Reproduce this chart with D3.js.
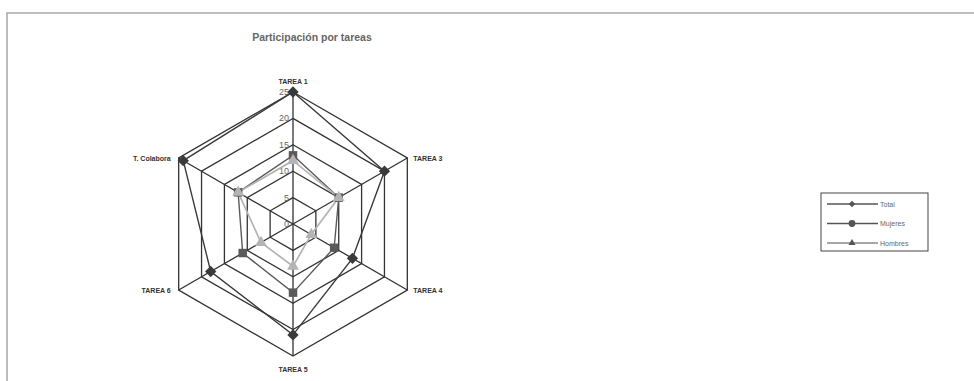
<!DOCTYPE html>
<html>
<head>
<meta charset="utf-8">
<script src="https://cdn.jsdelivr.net/npm/d3@7.9.0/dist/d3.min.js"></script>
<style>
  body { margin: 0; background: #fff; }
  svg { display: block; font-family: "Liberation Sans", Arial, sans-serif; }
</style>
</head>
<body>
<svg id="chart" width="974" height="381"></svg>
<script>
// Chart data
const axes = ['TAREA 1', 'TAREA 3', 'TAREA 4', 'TAREA 5', 'TAREA 6', 'T. Colabora'];
const total = [25, 20, 13, 21, 18, 24];
const mujeres = [13, 10, 9, 13, 11, 12];
const hombres = [12, 10, 4, 8, 7, 12];
const ticks = [0, 5, 10, 15, 20, 25];
const seriesNames = ['Total', 'Mujeres', 'Hombres'];

const svg = d3.select('#chart');
const cx = 293, cy = 224, R = 132;

const r = d3.scaleLinear().domain([0, 25]).range([0, R]);
const angle = d3.scaleLinear().domain([0, axes.length]).range([0, 2 * Math.PI]);

// outer frame
svg.append('path')
    .attr('d', 'M7,381 L7,13 L974,13')
    .attr('fill', 'none')
    .attr('stroke', '#a8a8a8')
    .attr('stroke-width', 1.5);

// title
svg.append('text')
    .attr('x', 312).attr('y', 41)
    .attr('text-anchor', 'middle')
    .attr('font-size', 10.5)
    .attr('font-weight', 'bold')
    .attr('fill', '#666')
    .text('Participación por tareas');

const g = svg.append('g').attr('transform', `translate(${cx},${cy})`);

const point = (i, v) => {
    const a = angle(i);
    return [Math.sin(a) * r(v), -Math.cos(a) * r(v)];
};

// grid rings
ticks.filter(t => t > 0).forEach(t => {
    g.append('path')
        .attr('d', d3.line()(axes.map((_, i) => point(i, t))) + 'Z')
        .attr('fill', 'none')
        .attr('stroke', '#333')
        .attr('stroke-width', 1.3);
});

// spokes
axes.forEach((_, i) => {
    const [x, y] = point(i, 25);
    g.append('line')
        .attr('x1', 0).attr('y1', 0)
        .attr('x2', x).attr('y2', y)
        .attr('stroke', '#333')
        .attr('stroke-width', 1.3);
});

// tick labels
ticks.forEach(t => {
    g.append('text')
        .attr('x', -4).attr('y', -r(t) + 3)
        .attr('text-anchor', 'end')
        .attr('font-size', 9)
        .attr('fill', '#666')
        .text(t);
});

// axis labels
axes.forEach((name, i) => {
    const [x, y] = point(i, 25);
    let anchor = 'middle', dx = 0, dy = 0;
    if (i === 0) { dy = -8; }
    else if (i === 3) { dy = 16; }
    else if (x > 0) { anchor = 'start'; dx = 6; dy = 3; }
    else { anchor = 'end'; dx = -8; dy = 3; }
    g.append('text')
        .attr('x', x + dx).attr('y', y + dy)
        .attr('text-anchor', anchor)
        .attr('font-size', 7)
        .attr('font-weight', 'bold')
        .attr('fill', '#333')
        .text(name);
});

const styles = [
    { values: total, color: '#3a3a3a', symbol: d3.symbolSquare, rotate: 45, size: 64, width: 1.4 },
    { values: mujeres, color: '#5a5a5a', symbol: d3.symbolSquare, rotate: 0, size: 72, width: 1.4 },
    { values: hombres, color: '#b4b4b4', symbol: d3.symbolTriangle, rotate: 0, size: 60, width: 1.7 }
];

styles.forEach(s => {
    g.append('path')
        .attr('d', d3.line()(s.values.map((v, i) => point(i, v))) + 'Z')
        .attr('fill', 'none')
        .attr('stroke', s.color)
        .attr('stroke-width', s.width);
});
styles.forEach(s => {
    s.values.forEach((v, i) => {
        const [x, y] = point(i, v);
        g.append('path')
            .attr('transform', `translate(${x},${y}) rotate(${s.rotate})`)
            .attr('d', d3.symbol().type(s.symbol).size(s.size)())
            .attr('fill', s.color);
    });
});

// legend
const lg = svg.append('g').attr('transform', 'translate(821,193)');
lg.append('rect')
    .attr('width', 107).attr('height', 58)
    .attr('fill', '#fff')
    .attr('stroke', '#444')
    .attr('stroke-width', 1);
const legendMarks = [d3.symbolSquare, d3.symbolCircle, d3.symbolTriangle];
seriesNames.forEach((name, i) => {
    const y = 11 + i * 19.5;
    lg.append('line')
        .attr('x1', 6).attr('x2', 57)
        .attr('y1', y).attr('y2', y)
        .attr('stroke', i === 2 ? '#888' : '#555')
        .attr('stroke-width', 1.6);
    lg.append('path')
        .attr('transform', `translate(31,${y}) rotate(${i === 0 ? 45 : 0})`)
        .attr('d', d3.symbol().type(legendMarks[i]).size(i === 1 ? 36 : 22)())
        .attr('fill', '#555');
    lg.append('text')
        .attr('x', 59).attr('y', y + 2.5)
        .attr('font-size', 7)
        .attr('fill', '#666')
        .text(name);
});
</script>
</body>
</html>
